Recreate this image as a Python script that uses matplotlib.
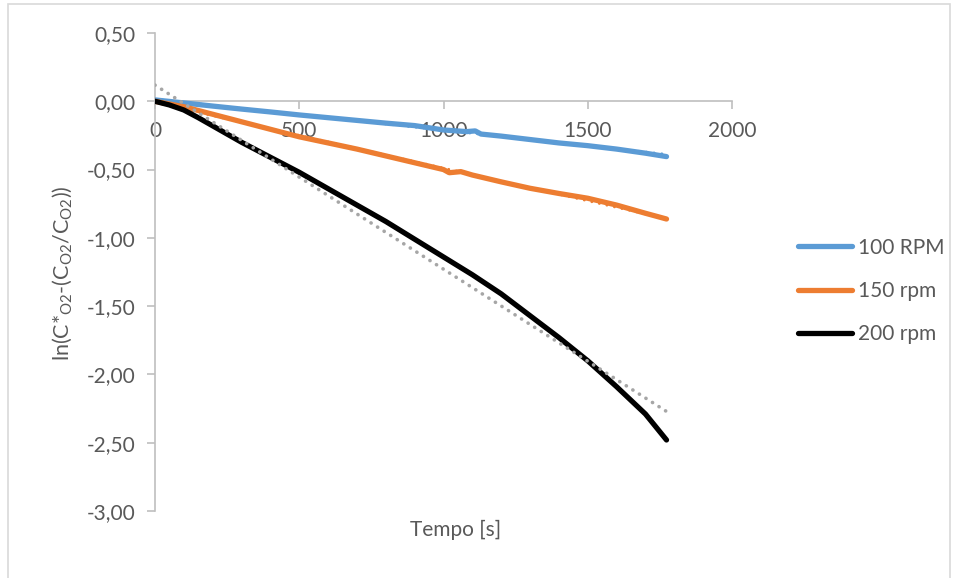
import matplotlib
matplotlib.use("Agg")
import matplotlib.pyplot as plt
from matplotlib.patches import Rectangle
from matplotlib.ticker import FuncFormatter
import numpy as np

plt.rcParams['font.family'] = ['Lato', 'DejaVu Sans']
plt.rcParams['mathtext.fontset'] = 'custom'
plt.rcParams['mathtext.rm'] = 'Lato'
plt.rcParams['mathtext.it'] = 'Lato:italic'

# time [s] and ln(C*-(C/C)) for each stirring speed
t_100 = [0, 100, 200, 300, 400, 500, 600, 700, 800, 900, 1000, 1080, 1110,
         1130, 1200, 1300, 1400, 1500, 1600, 1700, 1773]
y_100 = [0.01, -0.012, -0.035, -0.057, -0.078, -0.10, -0.12, -0.14, -0.16,
         -0.178, -0.21, -0.222, -0.217, -0.24, -0.255, -0.28, -0.305, -0.325,
         -0.35, -0.38, -0.405]

t_150 = [0, 100, 200, 300, 400, 500, 600, 700, 800, 900, 1000, 1020, 1060,
         1100, 1200, 1300, 1400, 1500, 1600, 1700, 1773]
y_150 = [0.0, -0.04, -0.095, -0.15, -0.205, -0.26, -0.305, -0.35, -0.40,
         -0.45, -0.50, -0.523, -0.515, -0.54, -0.59, -0.637, -0.675, -0.71,
         -0.76, -0.82, -0.862]

t_200 = [0, 50, 100, 150, 200, 300, 400, 500, 600, 700, 800, 900, 1000, 1100,
         1200, 1300, 1400, 1500, 1600, 1700, 1773]
y_200 = [0.0, -0.027, -0.064, -0.12, -0.18, -0.30, -0.41, -0.52, -0.64, -0.76,
         -0.88, -1.01, -1.14, -1.27, -1.41, -1.57, -1.73, -1.90, -2.09, -2.29,
         -2.48]

labels = ['100 RPM', '150 rpm', '200 rpm']
colors = ['#5B9BD5', '#ED7D31', '#000000']
trend_colors = ['#5B9BD5', '#ED7D31', '#A6A6A6']
trend_z = [2, 2, 4]
trend_lw = [2.0, 2.0, 2.6]

txt = '#595959'
grid = '#BFBFBF'
fs = 15

fig = plt.figure(figsize=(9.59, 5.78), dpi=100)
ax = fig.add_axes([155 / 959, 1 - 511 / 578, (732 - 155) / 959, (511 - 33) / 578])

series = [(t_100, y_100), (t_150, y_150), (t_200, y_200)]
for (t, y), lab, c in zip(series, labels, colors):
    ax.plot(t, y, color=c, lw=3.8, label=lab, solid_capstyle='round',
            solid_joinstyle='round', zorder=3)

# linear trendlines
for (t, y), c, z, w in zip(series, trend_colors, trend_z, trend_lw):
    k, b = np.polyfit(t, y, 1)
    tt = np.array([0, t[-1]])
    ax.plot(tt, k * tt + b, color=c, lw=w, linestyle=(0, (0.05, 2.1 * 2.6 / w)),
            dash_capstyle='round', zorder=z)

ax.set_xlim(0, 2000)
ax.set_ylim(-3, 0.5)
ax.set_xticks(np.arange(0, 2001, 500))
ax.set_yticks(np.arange(-3, 0.51, 0.5))


def comma(v, pos):
    s = f"{v:.2f}".replace('.', ',')
    return '0,00' if s == '-0,00' else s


ax.yaxis.set_major_formatter(FuncFormatter(comma))

for s in ['top', 'right']:
    ax.spines[s].set_visible(False)
ax.spines['bottom'].set_position(('data', 0))
ax.spines['bottom'].set_color(grid)
ax.spines['left'].set_color(grid)
ax.spines['bottom'].set_linewidth(1.2)
ax.spines['left'].set_linewidth(1.2)
ax.tick_params(axis='both', colors=grid, length=6, width=1.2,
               labelcolor=txt, labelsize=fs)
ax.tick_params(axis='x', pad=8)
ax.tick_params(axis='y', pad=8)

fig.text(456 / 959, 1 - 530 / 578, 'Tempo [s]', ha='center', va='center',
         fontsize=fs, color=txt)
fig.text(62 / 959, 1 - 273 / 578,
         r'ln(C*$_{\mathrm{O2}}$-(C$_{\mathrm{O2}}$/C$_{\mathrm{O2}}$))',
         rotation=90, ha='center', va='center', fontsize=15.5, color=txt)

leg = ax.legend(loc='center left', bbox_to_anchor=(779 / 959, 1 - 291 / 578),
                bbox_transform=fig.transFigure, frameon=False, fontsize=fs,
                handlelength=2.6, handletextpad=0.3, labelspacing=1.12)
for text in leg.get_texts():
    text.set_color(txt)

fig.patches.append(Rectangle((8 / 959, -0.1), (950 - 8) / 959, 1.1 - 4 / 578,
                             transform=fig.transFigure, fill=False,
                             edgecolor='#D9D9D9', lw=1.2))

fig.savefig('out.png', dpi=100)
